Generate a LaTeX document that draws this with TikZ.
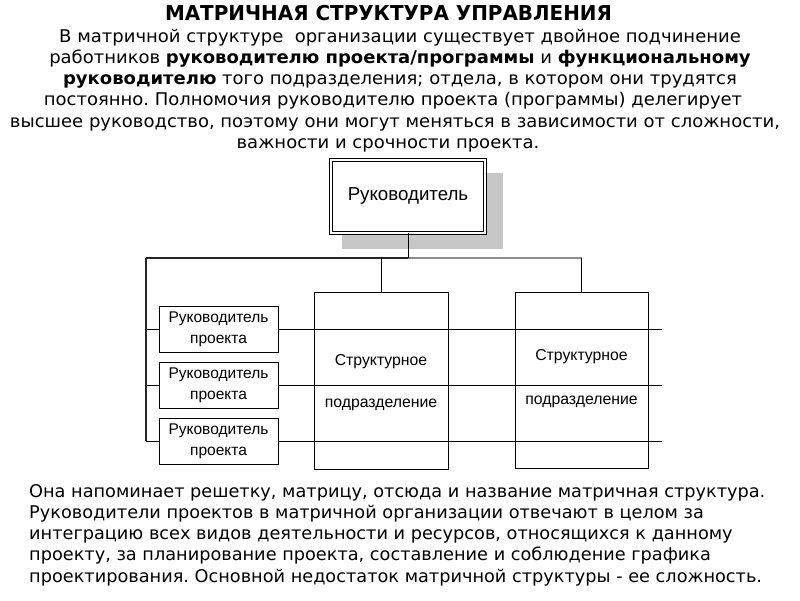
\documentclass[tikz,border=0pt]{standalone}
\usepackage{fontspec}
\setmainfont{DejaVu Sans}
\newfontfamily\arialf{Liberation Sans}
\newsavebox\fitbox
\newcommand\bodyf{\fontsize{17.5pt}{20pt}\selectfont}
\newcommand\titlef{\fontsize{20.5pt}{24pt}\selectfont\bfseries}
\newcommand\sx[1]{\scalebox{\fitfac}[1]{#1}}
\newcommand\sxb[1]{\scalebox{\fitfacb}[1]{#1}}
\newcommand\sxt[1]{\scalebox{\fitfact}[1]{#1}}
\frenchspacing
\begin{document}
\sbox\fitbox{\bodyf высшее руководство, поэтому они могут меняться в зависимости от сложности,}%
\pgfmathsetmacro\fitfac{770/\the\wd\fitbox}%
\sbox\fitbox{\bodyf Она напоминает решетку, матрицу, отсюда и название матричная структура.}%
\pgfmathsetmacro\fitfacb{736/\the\wd\fitbox}%
\sbox\fitbox{\titlef МАТРИЧНАЯ СТРУКТУРА УПРАВЛЕНИЯ}%
\pgfmathsetmacro\fitfact{447/\the\wd\fitbox}%
\begin{tikzpicture}[x=1pt,y=-1pt,
  tline/.style={inner sep=0pt, font=\bodyf},
  grid/.style={line width=0.8pt, black},
  thickline/.style={line width=2pt, black!85},
  greyline/.style={line width=1.6pt, black!45},
  mgr/.style={draw, line width=0.8pt, fill=white, minimum width=119pt, minimum height=46pt, align=center, inner sep=0pt, font=\arialf\fontsize{15.5pt}{21pt}\selectfont},
  unit/.style={draw, line width=0.9pt, minimum width=134pt, minimum height=177pt, inner sep=0pt},
  utext/.style={inner sep=0pt, font=\arialf\fontsize{15.8pt}{18pt}\selectfont},
  boss/.style={draw, double, double distance=2pt, line width=0.9pt, fill=white, minimum width=154pt, minimum height=73pt, inner sep=0pt, font=\arialf\fontsize{18.7pt}{20pt}\selectfont}
]
\useasboundingbox (0,0) rectangle (800,600);

% title and top text
\node[inner sep=0pt, anchor=base, font=\titlef] (title) at (388.5,20) {\sxt{МАТРИЧНАЯ СТРУКТУРА УПРАВЛЕНИЯ}};
\node[tline, anchor=base] (p1) at (400,42) {\sx{В матричной структуре \ организации существует двойное подчинение}};
\node[tline, anchor=base] (p2) at (400,63.3) {\sx{работников \textbf{руководителю проекта/программы} и \textbf{функциональному}}};
\node[tline, anchor=base] (p3) at (400,84.6) {\sx{\textbf{руководителю} того подразделения; отдела, в котором они трудятся}};
\node[tline, anchor=base] (p4) at (393,105.9) {\sx{постоянно. Полномочия руководителю проекта (программы) делегирует}};
\node[tline, anchor=base] (p5) at (395,127.2) {\sx{высшее руководство, поэтому они могут меняться в зависимости от сложности,}};
\node[tline, anchor=base] (p6) at (388,148.5) {\sx{важности и срочности проекта.}};

% bottom text
\node[tline, anchor=base west] (b1) at (29,497) {\sxb{Она напоминает решетку, матрицу, отсюда и название матричная структура.}};
\node[tline, anchor=base west] (b2) at (29,518.3) {\sxb{Руководители проектов в матричной организации отвечают в целом за}};
\node[tline, anchor=base west] (b3) at (29,539.6) {\sxb{интеграцию всех видов деятельности и ресурсов, относящихся к данному}};
\node[tline, anchor=base west] (b4) at (29,560.9) {\sxb{проекту, за планирование проекта, составление и соблюдение графика}};
\node[tline, anchor=base west] (b5) at (29,582.2) {\sxb{проектирования. Основной недостаток матричной структуры - ее сложность.}};

% shadow of top box
\fill[black!22] (342,173) rectangle (503,249);

% coordinates
\coordinate (tl) at (146,258);
\coordinate (g1l) at (146,329);
\coordinate (g2l) at (146,385);
\coordinate (g3l) at (146,441);
\coordinate (g1r) at (662,329);
\coordinate (g2r) at (662,385);
\coordinate (g3r) at (662,441);

% grid lines
\draw[grid] (g1l) -- (g1r);
\draw[grid] (g2l) -- (g2r);
\draw[grid] (g3l) -- (g3r);

% structure units
\node[unit] (s1) at (381,380.5) {};
\node[unit, minimum width=133pt, minimum height=176pt] (s2) at (581.5,380) {};
\node[utext] (s1a) at (381,362) {Структурное};
\node[utext] (s1b) at (381,405) {подразделение};
\node[utext] (s2a) at (581.5,357) {Структурное};
\node[utext] (s2b) at (581.5,402) {подразделение};

% top box
\node[boss] (boss) at (408,196.5) {Руководитель};
\coordinate (j) at (boss.south |- tl);

% connectors
\draw[greyline] (j) -- (s2.north |- tl);
\draw[thickline] (tl) -- (j);
\draw[line width=0.9pt] (boss.south) -- (j);
\draw[thickline] (tl) -- (g3l);
\draw[line width=0.9pt] (s1.north |- tl) -- (s1.north);
\draw[line width=0.9pt] (s2.north |- tl) -- (s2.north);

% project managers
\node[mgr] (m1) at (218.5,329) {Руководитель\\проекта};
\node[mgr] (m2) at (218.5,385.5) {Руководитель\\проекта};
\node[mgr] (m3) at (218.5,441.5) {Руководитель\\проекта};
\end{tikzpicture}
\end{document}
